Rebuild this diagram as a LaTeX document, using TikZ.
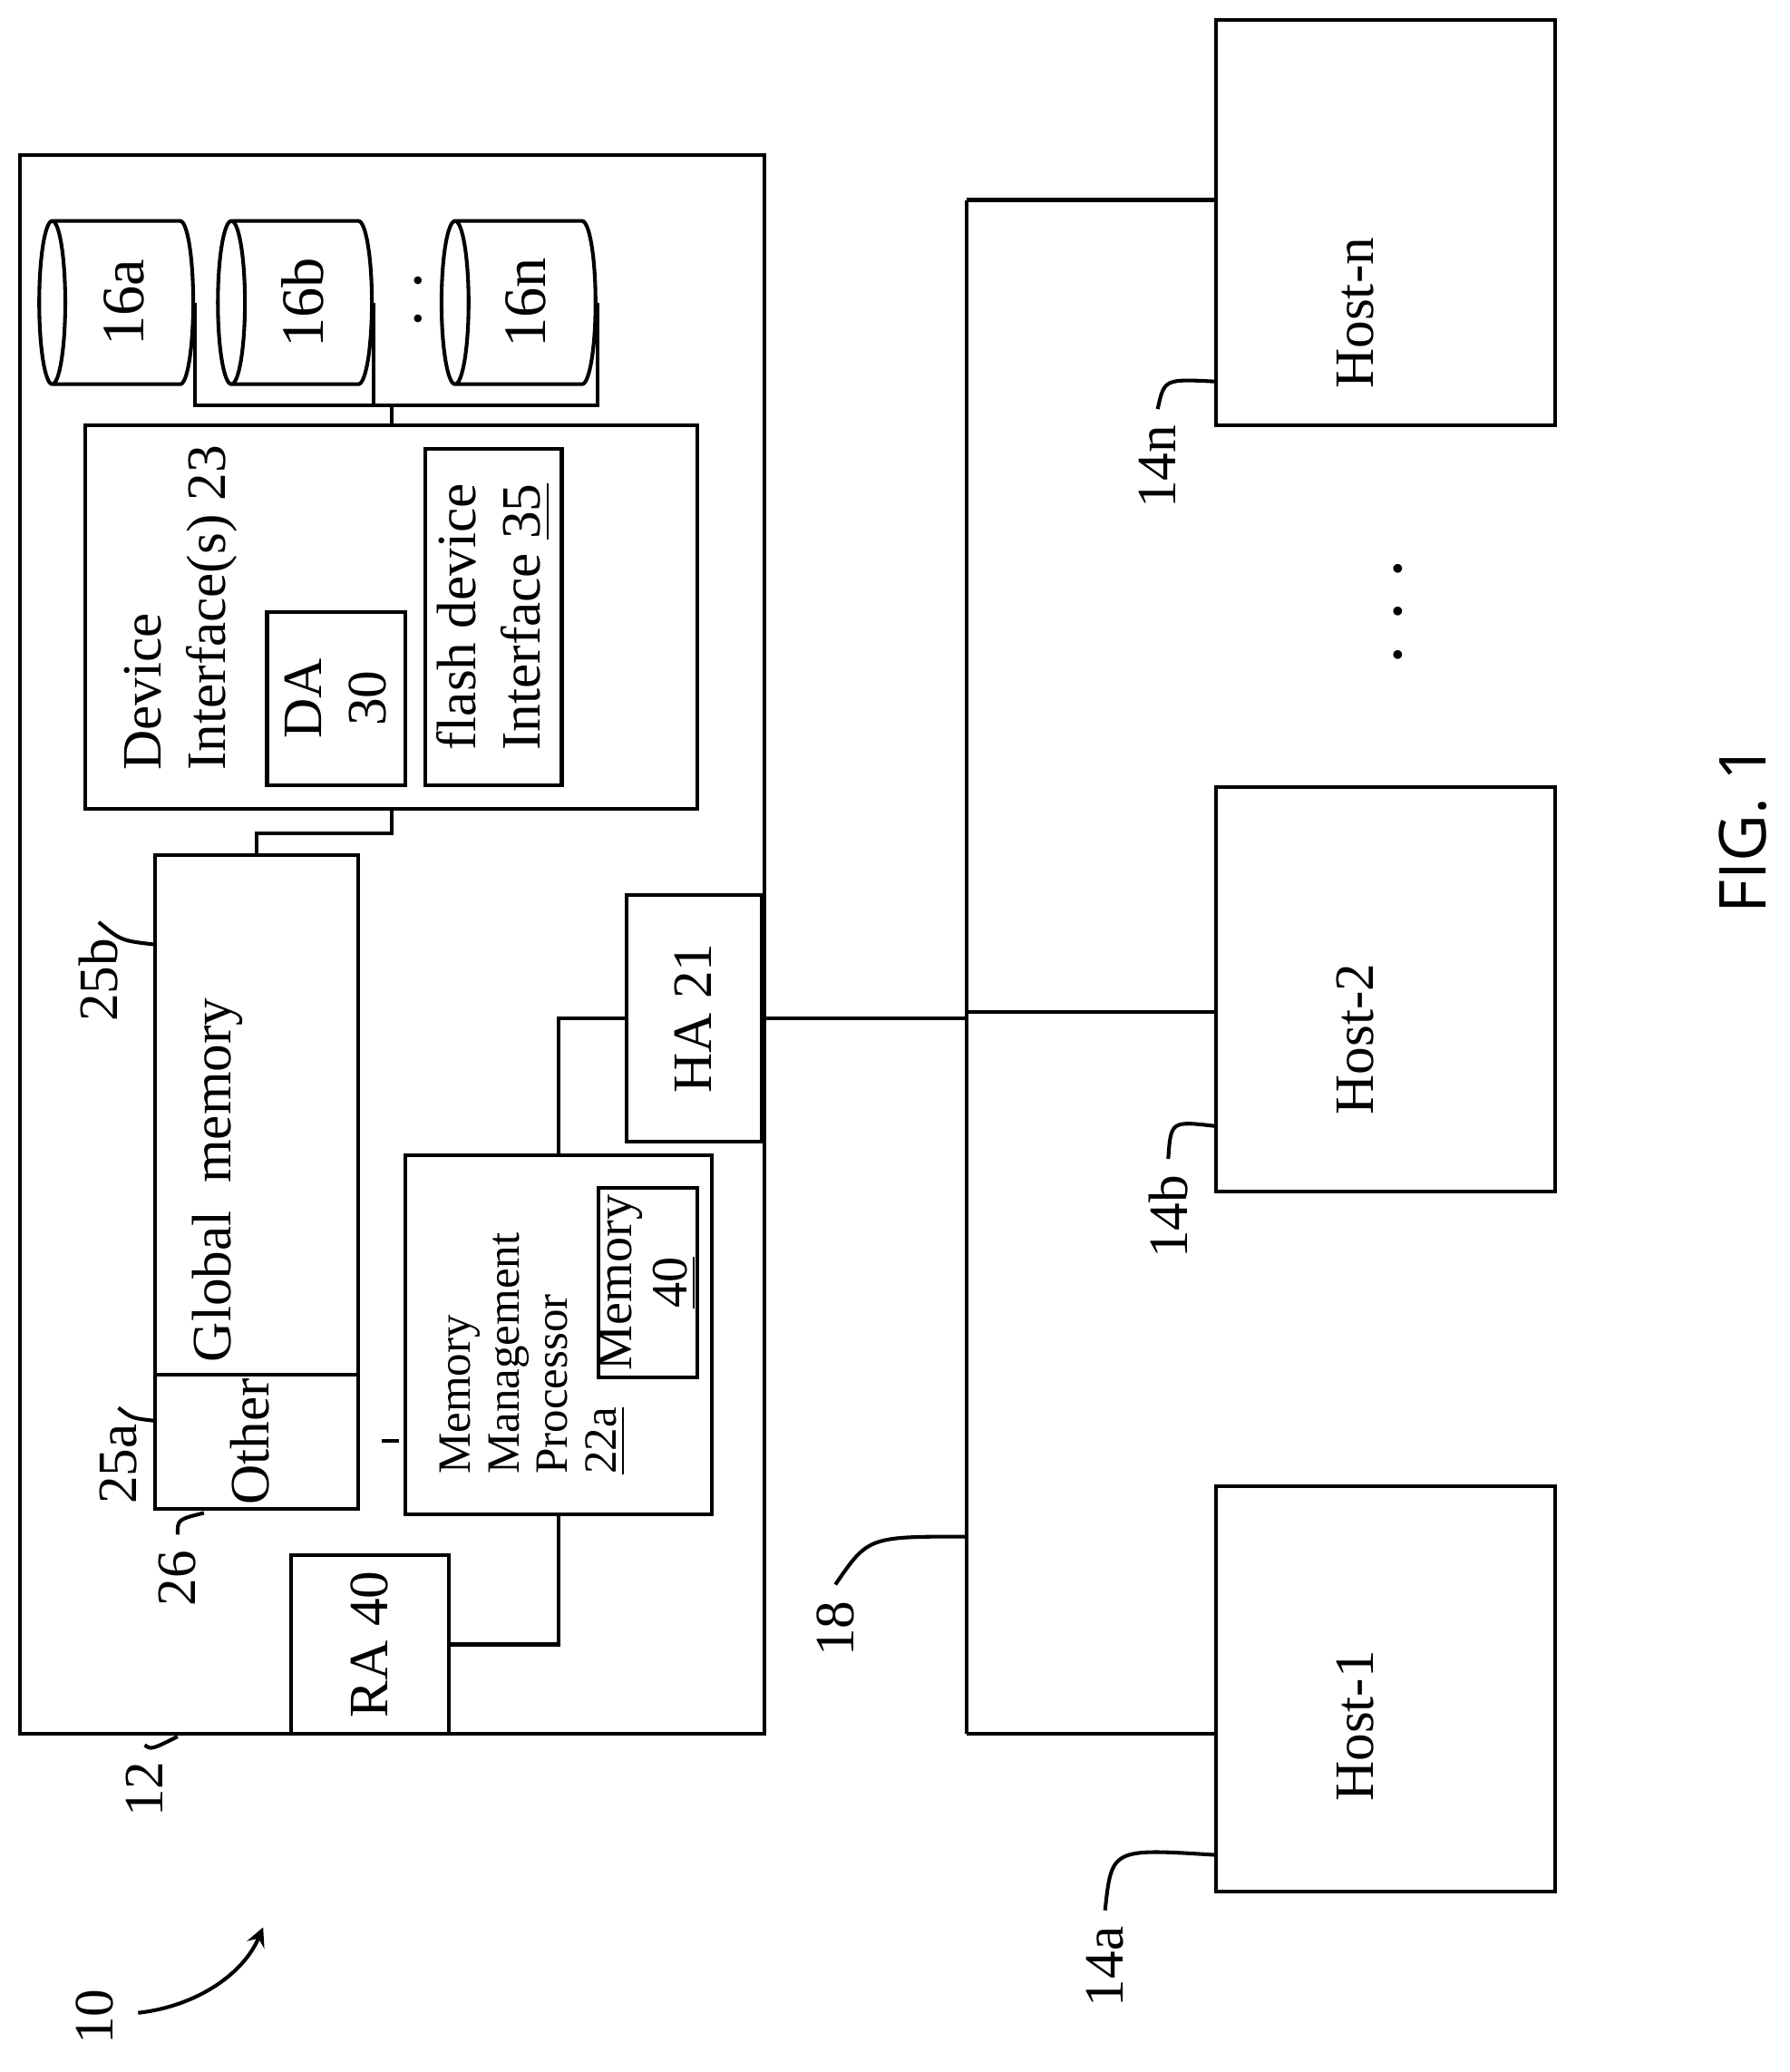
\documentclass[tikz,border=0pt]{standalone}
\usepackage{fontspec}
\setmainfont{Liberation Serif}
\setsansfont{Open Sans}
\usetikzlibrary{positioning, fit, shapes.geometric, calc}
\tikzstyle{box}=[draw, thick, inner sep=0pt, shape=rectangle]
\tikzstyle{txt}=[rotate=90, font=\fontsize{12}{14}\selectfont, align=left]
\tikzstyle{cyl}=[draw, thick, shape=cylinder, rotate=90, shape border rotate=90, aspect=0.3, minimum width=1.24cm, minimum height=1.17cm, inner sep=0pt, font=\fontsize{13}{15}\selectfont]
\tikzstyle{lead}=[thick]
\tikzset{>=stealth}
\newcommand{\bx}[5]{\node[box, fit={(#2,#3)(#4,#5)}] (#1) {};}
\begin{document}
\begin{tikzpicture}[x=0.01cm, y=-0.01cm]
\useasboundingbox (0,0) rectangle (1360,1575);
% the storage system
\bx{sys}{15}{118}{581}{1318}
\node[cyl] (da) at (94,230) {16a};
\node[cyl] (db) at (230,230) {16b};
\node[cyl] (dn) at (400,230) {16n};
\node[rotate=90, font=\fontsize{14}{16}\selectfont] (dots) at (318,228) {. .};
% the device interfaces
\bx{dev}{65}{323}{530}{615}
\node[txt, anchor=north west] at (82,598) {Device\\Interface(s) 23};
\bx{dacard}{203}{465}{308}{597}
\node[txt, align=center] at (255,531) {DA\\30};
\bx{flash}{323}{341}{427}{597}
\node[txt] at (375,469) {flash device\\Interface \underline{35}};
% the memories
\bx{gm}{118}{650}{272}{1045}
\node[txt] at (165,897) {Global\ \ memory};
\bx{oth}{118}{1045}{272}{1147}
\node[txt] at (190,1096) {Other};
\bx{mmp}{308}{878}{541}{1151}
\node[txt, anchor=north west, font=\fontsize{10}{10.5}\selectfont] at (322,1133) {Memory\\Management\\Processor\\\underline{22a}};
\bx{mem}{455}{903}{530}{1047}
\node[txt, align=center, font=\fontsize{11}{12}\selectfont] at (492,975) {Memory\\\underline{40}};
% the adapters
\bx{ha}{476}{680}{579}{868}
\node[txt] at (527,774) {HA 21};
\bx{ra}{221}{1182}{341}{1318}
\node[txt] at (281,1250) {RA 40};
% the hosts
\bx{hostn}{924}{15}{1182}{323}
\node[txt] at (1030,238) {Host-n};
\bx{hosttwo}{924}{598}{1182}{906}
\node[txt] at (1030,790) {Host-2};
\bx{hostone}{924}{1130}{1182}{1438}
\node[txt] at (1030,1312) {Host-1};
\node[rotate=90, font=\fontsize{16}{16}\selectfont] (hdots) at (1063,465) {. . .};
\node[rotate=90, font=\sffamily\fontsize{14}{16}\selectfont] (fig) at (1325,630) {FIG. 1};
% the connections
\coordinate (busT) at (735,152);
\coordinate (busB) at (735,1318);
\coordinate (diskbus) at (298,308);
\draw[thick] (da.south) -- (da.south |- diskbus) -- (dn.south |- diskbus) -- (dn.south);
\draw[thick] (db.south) -- (db.south |- diskbus);
\draw[thick] (diskbus) -- (dev.north -| diskbus);
\draw[thick] (dev.south) -- ++(0,17) -| (gm.north);
\draw[thick] (290,1095) -- (303,1095);
\draw[thick] (mmp.north) |- (ha.west);
\draw[thick] (ra.east) -| (mmp.south);
\draw[thick] (busT) -- (busB);
\draw[thick] (ha.east) -- (ha.east -| busT);
\draw[thick] (busT) -- (busT -| hostn.west);
\draw[thick] (735,769) -- (hosttwo.west |- 0,769);
\draw[thick] (busB) -- (busB -| hostone.west);
% the reference labels
\node[txt] (l10) at (72,1533) {10};
\draw[lead, ->] (105,1530) .. controls (150,1525) and (185,1500) .. (200,1465);
\node[txt] (l12) at (110,1360) {12};
\draw[lead] (l12.east) .. controls (115,1330) .. (135,1320);
\node[txt] (l25b) at (75,745) {25b};
\draw[lead] (l25b.east) .. controls (92,715) .. (118,718);
\node[txt] (l25a) at (90,1113) {25a};
\draw[lead] (l25a.east) .. controls (100,1078) .. (118,1080);
\node[txt] (l26) at (135,1200) {26};
\draw[lead] (l26.east) .. controls (135,1155) .. (155,1150);
\node[txt] (l18) at (635,1238) {18};
\draw[lead] (l18.east) .. controls (660,1168) .. (735,1168);
\node[txt] (l14n) at (880,355) {14n};
\draw[lead] (l14n.east) .. controls (885,288) .. (924,290);
\node[txt] (l14b) at (888,925) {14b};
\draw[lead] (l14b.east) .. controls (890,852) .. (924,856);
\node[txt] (l14a) at (840,1495) {14a};
\draw[lead] (l14a.east) .. controls (845,1405) .. (924,1410);
\end{tikzpicture}
\end{document}
